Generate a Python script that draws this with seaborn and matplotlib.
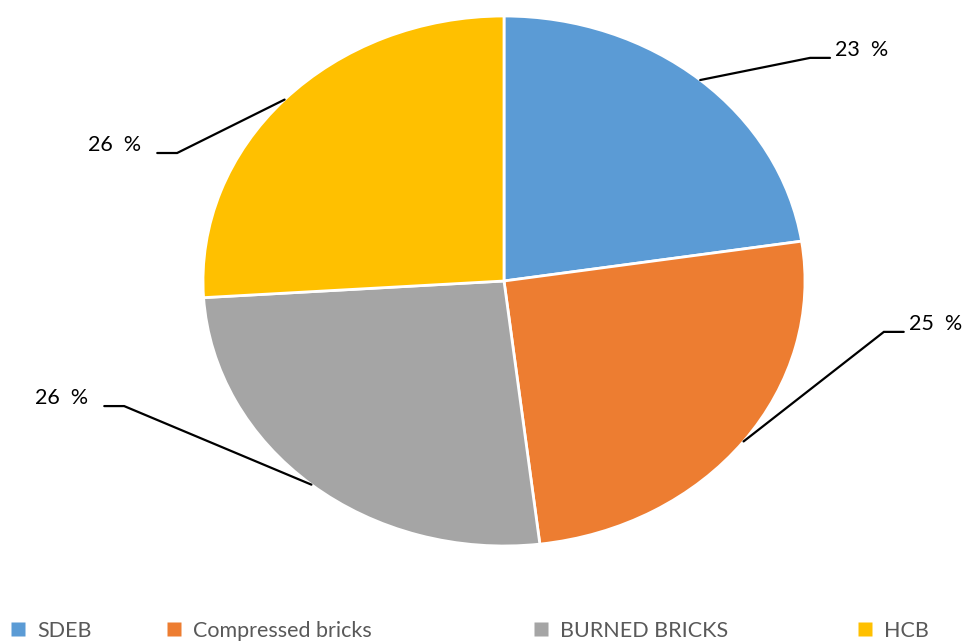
import matplotlib
matplotlib.use("Agg")
import matplotlib.pyplot as plt
from matplotlib.lines import Line2D
import numpy as np
import seaborn as sns

# data
categories = ['SDEB', 'Compressed bricks', 'BURNED BRICKS', 'HCB']
shares = [22.6, 25.5, 25.9, 26.0]
labels = ['23  %', '25  %', '26  %', '26  %']

sns.set_style('white')
plt.rcParams['font.family'] = ['Lato', 'DejaVu Sans']

colors = ['#5B9BD5', '#ED7D31', '#A5A5A5', '#FFC000']

W, H = 967, 643
fig = plt.figure(figsize=(W / 100, H / 100), dpi=100)
# the pie is stretched horizontally, so the axes box sets the ellipse
ax = fig.add_axes([203 / W, 97 / H, 602 / W, 530 / H])
wedges, _ = ax.pie(shares, colors=colors, startangle=90, counterclock=False,
                   wedgeprops={'edgecolor': 'white', 'linewidth': 2})
ax.set_aspect('auto')
ax.set_xlim(-1, 1)
ax.set_ylim(-1, 1)
ax.axis('off')

# leader line elbows (axes units) and which side the label sits on
elbows = [(1.017, 0.842), (1.262, -0.192), (-1.262, -0.472), (-1.086, 0.483)]
sides = [1, 1, -1, -1]
for w, (ex, ey), side, lab in zip(wedges, elbows, sides, labels):
    mid = np.deg2rad((w.theta1 + w.theta2) / 2)
    sx, sy = np.cos(mid), np.sin(mid)
    hx = ex + side * 0.066
    ax.plot([sx, ex, hx], [sy, ey, ey], color='black', lw=1.6,
            clip_on=False, solid_joinstyle='miter')
    gap = 0.017 if side > 0 else 0.052
    ax.text(hx + side * gap, ey + 0.03, lab, fontsize=15.5,
            ha='left' if side > 0 else 'right', va='center', color='black')

# legend entries spread along the bottom like the original
leg_x = [11, 167, 534, 858]
for cat, col, lx in zip(categories, colors, leg_x):
    h = Line2D([], [], marker='s', linestyle='none', markersize=10,
               markerfacecolor=col, markeredgecolor='none', label=cat)
    fig.legend(handles=[h], loc='center left', bbox_to_anchor=(lx / W, 12 / H),
               frameon=False, fontsize=15.5, labelcolor='#595959',
               handlelength=0.65, handletextpad=0.55,
               borderpad=0, borderaxespad=0)

fig.savefig('out.png', dpi=100)
